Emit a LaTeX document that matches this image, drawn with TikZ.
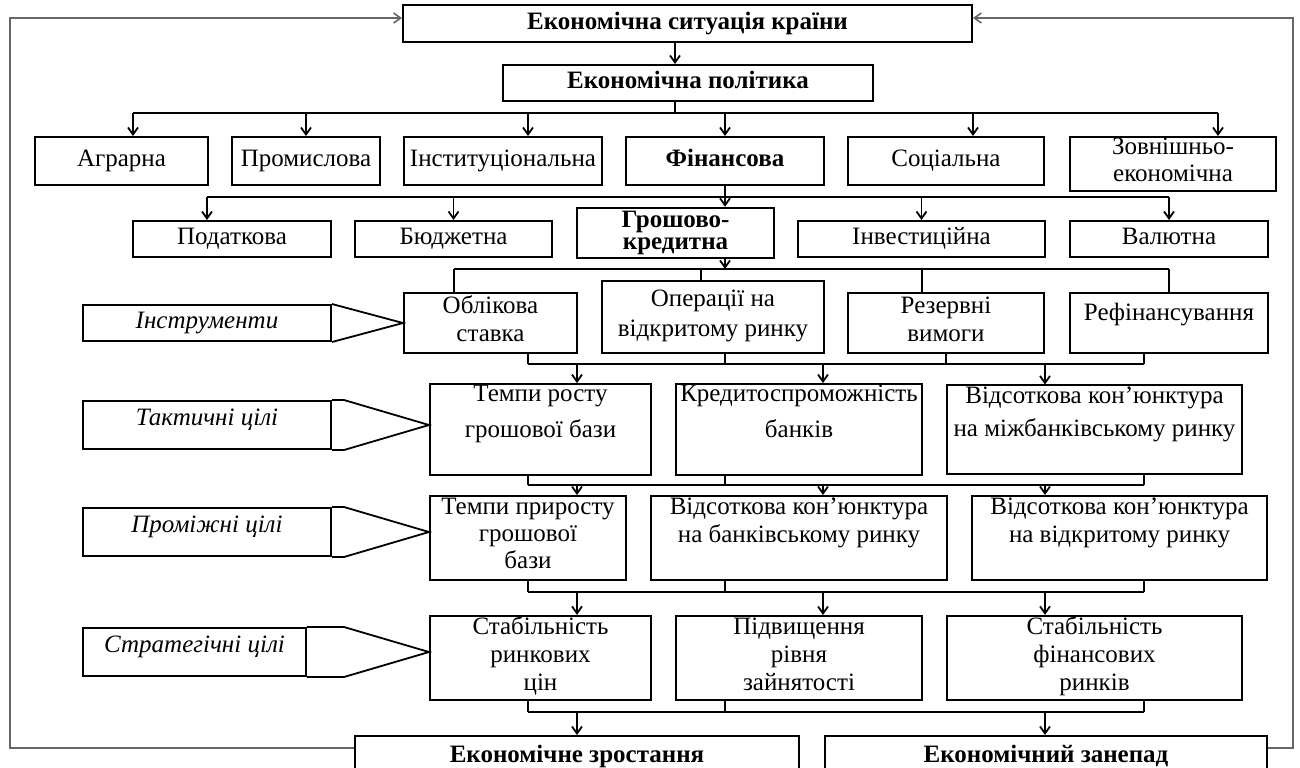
\documentclass[tikz,border=0pt]{standalone}
\usepackage{fontspec}
\setmainfont{Liberation Serif}
\usetikzlibrary{arrows.meta}

\begin{document}
\begin{tikzpicture}[x=0.5pt, y=-0.5pt, >={Straight Barb[length=3.5pt,width=5pt]}]
% Define the node styles
\tikzstyle{box} = [draw, rectangle, line width=1pt, inner sep=0.5pt, align=center, font=\fontsize{12.5}{14}\selectfont, execute at begin node=\strut, execute at end node=\strut]
\tikzstyle{boxbf} = [box, font=\fontsize{12.5}{14}\selectfont\bfseries]
\tikzstyle{tag} = [box, font=\fontsize{12.5}{14}\selectfont\itshape]
\tikzstyle{conn} = [line width=0.9pt]
\tikzstyle{arr} = [conn, ->]
\tikzstyle{fback} = [line width=0.8pt, black!60, ->]

\useasboundingbox (0,0) rectangle (1300,767);
\clip (0,0) rectangle (1300,767);

% Define the nodes
\node[boxbf, minimum width=284.5pt, minimum height=18.5pt] (sit) at (687.5,23.5) {Економічна ситуація країни};
\node[boxbf, minimum width=185pt, minimum height=18pt] (pol) at (688,83) {Економічна політика};

\node[box, minimum width=86.5pt, minimum height=24pt] (agr) at (121.5,161) {Аграрна};
\node[box, minimum width=74pt, minimum height=24pt] (prom) at (306,161) {Промислова};
\node[box, minimum width=99pt, minimum height=24pt] (inst) at (503,161) {Інституціональна};
\node[boxbf, minimum width=99pt, minimum height=24pt] (fin) at (725,161) {Фінансова};
\node[box, minimum width=98pt, minimum height=24pt] (soc) at (946,161) {Соціальна};
\node[box, minimum width=103pt, minimum height=27pt] (zovn) at (1173,164) {Зовнішньо-\\[-0.5pt]економічна};

\node[box, minimum width=99pt, minimum height=18pt] (pod) at (232,239) {Податкова};
\node[box, minimum width=98.5pt, minimum height=18pt] (byud) at (453.5,239) {Бюджетна};
\node[boxbf, minimum width=98.5pt, minimum height=24pt, inner ysep=0pt, execute at begin node={}, execute at end node={}] (gk) at (675.5,233) {\rule{0pt}{10pt}Грошово-\\[-3pt]кредитна};
\node[box, minimum width=123.5pt, minimum height=18pt] (inv) at (921.5,239) {Інвестиційна};
\node[box, minimum width=99pt, minimum height=18pt] (val) at (1169,239) {Валютна};

\node[box, minimum width=86.5pt, minimum height=30pt] (obl) at (490.5,323) {Облікова\\ставка};
\node[box, minimum width=111pt, minimum height=36pt] (oper) at (713,317) {Операції на\\[1pt]відкритому ринку};
\node[box, minimum width=98pt, minimum height=30pt] (rez) at (946,323) {Резервні\\вимоги};
\node[box, minimum width=99pt, minimum height=30pt] (ref) at (1169,323) {Рефінансування\rule[-12pt]{0pt}{12pt}};

\node[box, minimum width=110.5pt, minimum height=42.5pt] (temp) at (540.5,429.5) {Темпи росту\\[4pt]грошової бази\\~};
\node[box, minimum width=123pt, minimum height=42.5pt] (kred) at (799,429.5) {Кредитоспроможність\\[4pt]банків\\~};
\node[box, minimum width=147.5pt, minimum height=42.5pt] (vmb) at (1094.5,429.5) {Відсоткова кон’юнктура\\[2.5pt]на міжбанківському ринку\\~};

\node[box, minimum width=98pt, minimum height=42pt] (tpr) at (528,538) {Темпи приросту\\[-0.5pt]грошової\\[-0.5pt]бази};
\node[box, minimum width=148pt, minimum height=42pt] (vbr) at (799,538) {Відсоткова кон’юнктура\\на банківському ринку\\~};
\node[box, minimum width=147.5pt, minimum height=42pt] (vvr) at (1119.5,538) {Відсоткова кон’юнктура\\на відкритому ринку\\~};

\node[box, minimum width=110.5pt, minimum height=42pt] (scin) at (540.5,658) {Стабільність\\ринкових\\цін};
\node[box, minimum width=123pt, minimum height=42pt] (zain) at (799,658) {Підвищення\\рівня\\зайнятості};
\node[box, minimum width=147.5pt, minimum height=42pt] (sfin) at (1094.5,658) {Стабільність\\фінансових\\ринків};

\node[boxbf, minimum width=222pt, minimum height=20.5pt] (zrost) at (577,756.5) {Економічне зростання};
\node[boxbf, minimum width=221pt, minimum height=20.5pt] (zanep) at (1046,756.5) {Економічний занепад};

% Side labels
\node[tag, minimum width=124pt, minimum height=18pt] (tinstr) at (207,323) {Інструменти};
\node[tag, minimum width=124pt, minimum height=24pt] (ttakt) at (207,425) {\rule[-9pt]{0pt}{9pt}Тактичні цілі};
\node[tag, minimum width=124pt, minimum height=24pt] (tprom) at (207,532) {\rule[-9pt]{0pt}{9pt}Проміжні цілі};
\node[tag, minimum width=111.5pt, minimum height=24pt] (tstrat) at (194.5,652) {\rule[-9pt]{0pt}{9pt}Стратегічні цілі};

\draw[conn] (tinstr.north east) -- (obl.west) -- (tinstr.south east);
\draw[conn] (ttakt.north east) -- ++(12,0) -- (ttakt.east -| temp.west) -- ([xshift=6pt]ttakt.south east) -- (ttakt.south east);
\draw[conn] (tprom.north east) -- ++(12,0) -- (tprom.east -| tpr.west) -- ([xshift=6pt]tprom.south east) -- (tprom.south east);
\draw[conn] (tstrat.north east) -- ++(37,0) -- (tstrat.east -| scin.west) -- ([xshift=18.5pt]tstrat.south east) -- (tstrat.south east);

% Define the bus points
\coordinate (b1l) at (133,113);
\coordinate (b1r) at (1218,113);
\coordinate (t1a) at (675,113);
\coordinate (t1b) at (528,113);
\coordinate (t1c) at (973,113);
\coordinate (b2l) at (207,197);
\coordinate (b2r) at (1169,197);
\coordinate (b3l) at (454,269);
\coordinate (b3r) at (1169,269);
\coordinate (t3a) at (701,269);
\coordinate (t3b) at (922,269);
\coordinate (ca) at (528,0);
\coordinate (cb) at (725,0);
\coordinate (cc) at (1144,0);
\coordinate (aa) at (577,0);
\coordinate (ab) at (823,0);
\coordinate (ac) at (1045,0);
\coordinate (y4) at (0,364);
\coordinate (y5) at (0,485);
\coordinate (y6) at (0,592);
\coordinate (y7) at (0,712);
\coordinate (y8) at (0,748);
\coordinate (fbl) at (10,18);
\coordinate (fbr) at (1293,18);

% Define the transitions
\draw[arr] (sit.south -| t1a) -- (pol.north -| t1a);
\draw[conn] (pol.south -| t1a) -- (t1a);
\draw[conn] (b1l) -- (b1r);
\draw[arr] (b1l) -- (b1l |- agr.north);
\draw[arr] (prom.north |- b1l) -- (prom.north);
\draw[arr] (t1b) -- (t1b |- inst.north);
\draw[arr] (fin.north |- b1l) -- (fin.north);
\draw[arr] (t1c) -- (t1c |- soc.north);
\draw[arr] (b1r) -- (b1r |- zovn.north);

\draw[conn] (b2l) -- (b2r);
\draw[arr] (fin.south) -- (fin.south |- gk.north);
\draw[arr] (b2l) -- (b2l |- pod.north);
\draw[arr] (byud.north |- b2l) -- (byud.north);
\draw[arr] (inv.north |- b2l) -- (inv.north);
\draw[arr] (b2r) -- (val.north);

\draw[arr] (gk.south -| fin.south) -- (fin.south |- b3l);
\draw[conn] (b3l) -- (b3r);
\draw[conn] (b3l) -- (b3l |- obl.north);
\draw[conn] (t3a) -- (t3a |- oper.north);
\draw[conn] (t3b) -- (t3b |- rez.north);
\draw[conn] (b3r) -- (ref.north);

\draw[conn] (ca |- y4) -- (cc |- y4);
\draw[conn] (obl.south -| ca) -- (ca |- y4);
\draw[conn] (oper.south -| cb) -- (cb |- y4);
\draw[conn] (rez.south) -- (rez.south |- y4);
\draw[conn] (ref.south -| cc) -- (cc |- y4);
\draw[arr] (aa |- y4) -- (temp.north -| aa);
\draw[arr] (ab |- y4) -- (kred.north -| ab);
\draw[arr] (ac |- y4) -- (vmb.north -| ac);

\draw[conn] (ca |- y5) -- (cc |- y5);
\draw[conn] (temp.south -| ca) -- (ca |- y5);
\draw[conn] (kred.south -| cb) -- (cb |- y5);
\draw[conn] (vmb.south -| cc) -- (cc |- y5);
\draw[arr] (aa |- y5) -- (tpr.north -| aa);
\draw[arr] (ab |- y5) -- (vbr.north -| ab);
\draw[arr] (ac |- y5) -- (vvr.north -| ac);

\draw[conn] (ca |- y6) -- (cc |- y6);
\draw[conn] (tpr.south -| ca) -- (ca |- y6);
\draw[conn] (vbr.south -| cb) -- (cb |- y6);
\draw[conn] (vvr.south -| cc) -- (cc |- y6);
\draw[arr] (aa |- y6) -- (scin.north -| aa);
\draw[arr] (ab |- y6) -- (zain.north -| ab);
\draw[arr] (ac |- y6) -- (sfin.north -| ac);

\draw[conn] (ca |- y7) -- (cc |- y7);
\draw[conn] (scin.south -| ca) -- (ca |- y7);
\draw[conn] (zain.south -| cb) -- (cb |- y7);
\draw[conn] (sfin.south -| cc) -- (cc |- y7);
\draw[arr] (aa |- y7) -- (zrost.north -| aa);
\draw[arr] (ac |- y7) -- (zanep.north -| ac);

% Feedback loops
\draw[fback] (zrost.west |- y8) -| (fbl) -- (sit.west |- fbl);
\draw[fback] (zanep.east |- y8) -| (fbr) -- (sit.east |- fbr);

\end{tikzpicture}
\end{document}
